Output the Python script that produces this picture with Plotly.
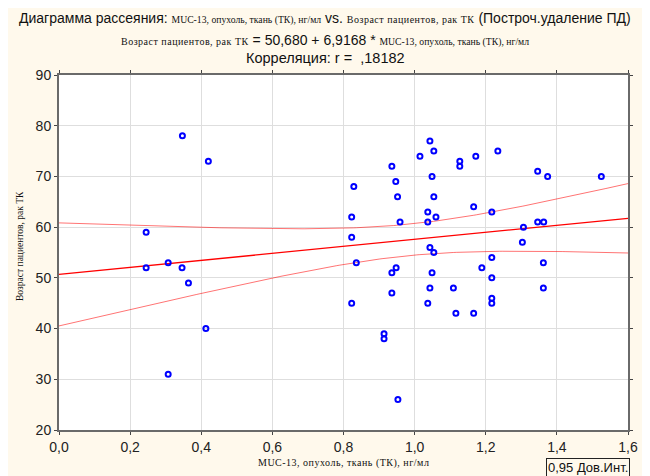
import numpy as np
import plotly.graph_objects as go

muc13 = [0.347, 0.420, 0.245, 0.307, 0.245, 0.346, 0.364, 0.413, 0.307,
         1.043, 1.054, 1.015, 0.936, 0.947, 1.049, 0.829, 0.952, 1.054, 0.823,
         1.037, 1.060, 0.959, 1.037, 0.823, 1.043, 1.054, 0.836, 0.948, 0.936,
         1.049, 0.936, 1.043, 0.823, 1.037, 0.914, 0.914, 0.953,
         1.127, 1.127, 1.172, 1.234, 1.346, 1.374, 1.525, 1.166, 1.217, 1.306,
         1.346, 1.363, 1.303, 1.217, 1.189, 1.362, 1.217, 1.109, 1.362, 1.217,
         1.217, 1.116, 1.166]
age = [78, 73, 59, 53, 52, 52, 49, 40, 31,
       77, 75, 74, 72, 69, 70, 68, 66, 66, 62,
       63, 62, 61, 61, 58, 56, 55, 53, 52, 51,
       51, 47, 48, 45, 45, 39, 38, 26,
       73, 72, 74, 75, 71, 70, 70, 64, 63, 60,
       61, 61, 57, 54, 52, 53, 50, 48, 48, 46,
       45, 43, 43]
intercept = 50.680
slope = 6.9168
x_ticks = [0.0, 0.2, 0.4, 0.6, 0.8, 1.0, 1.2, 1.4, 1.6]
y_ticks = [20, 30, 40, 50, 60, 70, 80, 90]

x = np.array(muc13)
y = np.array(age, dtype=float)
n = len(x)
xbar = x.mean()
sxx = ((x - xbar) ** 2).sum()
resid = y - (intercept + slope * x)
s = np.sqrt((resid ** 2).sum() / (n - 2))
t = 2.0017
xs = np.linspace(0, 1.6, 200)
yfit = intercept + slope * xs
hw = t * s * np.sqrt(1 / n + (xs - xbar) ** 2 / sxx)

serif = "Liberation Serif"
sans = "Liberation Sans"

fig = go.Figure()
fig.add_trace(go.Scatter(x=xs, y=yfit + hw, mode="lines",
                         line=dict(color="rgba(255,0,0,0.55)", width=1), hoverinfo="skip"))
fig.add_trace(go.Scatter(x=xs, y=yfit - hw, mode="lines",
                         line=dict(color="rgba(255,0,0,0.55)", width=1), hoverinfo="skip"))
fig.add_trace(go.Scatter(x=xs, y=yfit, mode="lines",
                         line=dict(color="#ff0000", width=1.3), hoverinfo="skip"))
fig.add_trace(go.Scatter(x=muc13, y=age, mode="markers",
                         marker=dict(symbol="circle-open", size=5, color="#0000ff",
                                     line=dict(color="#0000ff", width=2))))

var_x = "MUC-13, опухоль, ткань (ТК), нг/мл"
var_y = "Возраст пациентов, рак ТК"

def sx(t_):
    return f'<span style="font-family:{serif};font-size:9.7px">{t_}</span>'

def sy(t_):
    return f'<span style="font-family:{serif};font-size:10px;letter-spacing:0.5px">{t_}</span>'

# page-pixel helpers (plot area spans x 59..628, y 75..430 on the page)
def px(X):
    return (X - 59) / 569.0

def py(Y):
    return (430 - Y) / 355.0

tfont = dict(family=sans, size=14, color="#111")
layout_annots = [
    dict(text="Диаграмма рассеяния: " + sx(var_x) + " vs. " + sy(var_y) + " (Построч.удаление ПД)",
         x=px(325), y=py(18), font=tfont),
    dict(text=sy(var_y) + " = 50,680 + 6,9168 * " + sx(var_x),
         x=px(325), y=py(40), font=tfont),
    dict(text="Корреляция: r =  ,18182",
         x=px(325), y=py(58), font=dict(family=sans, size=14.5, color="#111")),
]
for a in layout_annots:
    a.update(xref="paper", yref="paper", showarrow=False, xanchor="center", yanchor="middle")

layout_annots.append(dict(text=var_y, xref="paper", yref="paper", x=px(20), y=py(246),
                          textangle=-90, showarrow=False, xanchor="center", yanchor="middle",
                          font=dict(family=serif, size=9.5, color="#111")))
layout_annots.append(dict(text=f'<span style="letter-spacing:0.5px">{var_x}</span>',
                          xref="paper", yref="paper", x=px(343), y=py(463),
                          showarrow=False, xanchor="center", yanchor="middle",
                          font=dict(family=serif, size=10, color="#111")))
layout_annots.append(dict(text="0,95 Дов.Инт.", xref="paper", yref="paper",
                          x=px(546), y=py(458), xanchor="left", yanchor="top", showarrow=False,
                          bordercolor="#222", borderwidth=1, borderpad=1,
                          font=dict(family=sans, size=13, color="#111")))

fig.update_layout(
    width=642, height=468,
    margin=dict(l=51, r=22, t=67, b=46),
    paper_bgcolor="#fff9ec",
    plot_bgcolor="#ffffff",
    showlegend=False,
    separators=", ",
    annotations=layout_annots,
    font=dict(family=sans, size=14, color="#222"),
)
fig.update_xaxes(range=[0, 1.6], tickvals=x_ticks, tickformat=".1f",
                 showgrid=True, gridcolor="#dedede", gridwidth=1,
                 showline=True, linecolor="#6a6a6a", linewidth=2, mirror="ticks",
                 ticks="outside", ticklen=3, tickcolor="#444", zeroline=False,
                 tickfont=dict(family=sans, size=14, color="#222"))
fig.update_yaxes(range=[20, 90], tickvals=y_ticks,
                 showgrid=True, gridcolor="#dedede", gridwidth=1,
                 showline=True, linecolor="#6a6a6a", linewidth=2, mirror="ticks",
                 ticks="outside", ticklen=3, tickcolor="#444", zeroline=False,
                 tickfont=dict(family=sans, size=14, color="#222"))

fig.write_html("out.html")
